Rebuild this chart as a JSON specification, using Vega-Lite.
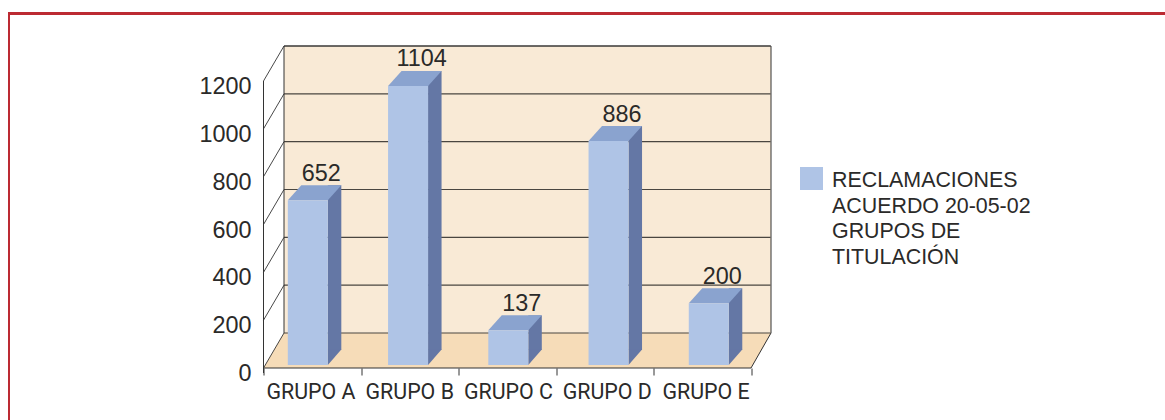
{
"$schema":"https://vega.github.io/schema/vega-lite/v6.json",
"width":507.5,"height":322,
"autosize":"none",
"padding":{"left":263.5,"top":46,"right":394,"bottom":52},
"background":"white",
"view":{"stroke":null},
"config":{"font":"Liberation Sans"},
"datasets":{
"bars":[
{"grupo":"GRUPO A","valor":652,"altura":652,"serie":"RECLAMACIONES|ACUERDO 20-05-02|GRUPOS DE|TITULACIÓN"},
{"grupo":"GRUPO B","valor":1104,"altura":1104,"serie":"RECLAMACIONES|ACUERDO 20-05-02|GRUPOS DE|TITULACIÓN"},
{"grupo":"GRUPO C","valor":137,"altura":137,"serie":"RECLAMACIONES|ACUERDO 20-05-02|GRUPOS DE|TITULACIÓN"},
{"grupo":"GRUPO D","valor":886,"altura":886,"serie":"RECLAMACIONES|ACUERDO 20-05-02|GRUPOS DE|TITULACIÓN"},
{"grupo":"GRUPO E","valor":200,"altura":244,"serie":"RECLAMACIONES|ACUERDO 20-05-02|GRUPOS DE|TITULACIÓN"}],
"ticks":[{"t":0},{"t":200},{"t":400},{"t":600},{"t":800},{"t":1000},{"t":1200}],
"origin":[{"t":0}]
},
"layer":[
{"data":{"name":"origin"},"mark":{"type":"point","size":4,"opacity":1,"filled":true,"fill":"#BC2A32","stroke":null,"shape":"M-255.5 52V-356H901.5V-353H-253.5V52Z"},
 "encoding":{"x":{"datum":0,"type":"quantitative","scale":{"domain":[0,1],"range":[0,487.5]},"axis":null},"y":{"field":"t","type":"quantitative","scale":{"domain":[0,1200],"range":[322,35]},"axis":null}}},
{"data":{"name":"origin"},"mark":{"type":"point","size":4,"opacity":1,"filled":true,"fill":"#F9EAD6","stroke":null,"shape":"M20.5 -322H507.5V-35H20.5Z"},
 "encoding":{"x":{"datum":0,"type":"quantitative","scale":{"domain":[0,1],"range":[0,487.5]},"axis":null},"y":{"field":"t","type":"quantitative","scale":{"domain":[0,1200],"range":[322,35]},"axis":null}}},
{"data":{"name":"origin"},"mark":{"type":"point","size":4,"opacity":1,"filled":true,"fill":"#F6DCB8","stroke":null,"shape":"M0 0L20.5 -35H507.5L487.5 0Z"},
 "encoding":{"x":{"datum":0,"type":"quantitative","scale":{"domain":[0,1],"range":[0,487.5]},"axis":null},"y":{"field":"t","type":"quantitative","scale":{"domain":[0,1200],"range":[322,35]},"axis":null}}},
{"data":{"name":"ticks"},"mark":{"type":"point","size":4,"opacity":1,"filled":false,"fill":null,"stroke":"#4a4640","strokeWidth":1.2,"shape":"M20.5 -35H507"},
 "encoding":{"x":{"datum":0,"type":"quantitative","scale":{"domain":[0,1],"range":[0,487.5]},"axis":null},
  "y":{"field":"t","type":"quantitative","scale":{"domain":[0,1200],"range":[322,35]},
   "axis":{"values":[0,200,400,600,800,1000,1200],"format":"d","domain":false,"ticks":false,"grid":false,"title":null,"labelFontSize":23.4,"labelColor":"#2b2a29","labelPadding":12.5,"labelOffset":5.5,"labelFont":"Liberation Sans"}}}},
{"data":{"name":"ticks"},"mark":{"type":"point","size":4,"opacity":1,"filled":false,"fill":null,"stroke":"#333333","strokeWidth":0.9,"shape":"M0 0L20.5 -35"},
 "encoding":{"x":{"datum":0,"type":"quantitative","scale":{"domain":[0,1],"range":[0,487.5]},"axis":null},"y":{"field":"t","type":"quantitative","scale":{"domain":[0,1200],"range":[322,35]},"axis":null}}},
{"data":{"name":"origin"},"mark":{"type":"point","size":4,"opacity":1,"filled":false,"fill":null,"stroke":"#333333","strokeWidth":1,"shape":"M0 -287V5M20.5 -322V-35M20.5 -322H507.5V-35L487.5 0H0"},
 "encoding":{"x":{"datum":0,"type":"quantitative","scale":{"domain":[0,1],"range":[0,487.5]},"axis":null},"y":{"field":"t","type":"quantitative","scale":{"domain":[0,1200],"range":[322,35]},"axis":null}}},
{"data":{"name":"bars"},"mark":{"type":"point","opacity":0},
 "encoding":{"x":{"field":"grupo","type":"nominal","scale":{"type":"band","padding":0,"range":[0,487.5]},
   "axis":{"orient":"bottom","labels":false,"title":null,"ticks":true,"tickBand":"extent","tickSize":7,"tickColor":"#333333","domain":false,"grid":false}}}},
{"data":{"name":"bars"},"mark":{"type":"bar","width":13.5,"xOffset":26.75,"yOffset":-15,"y2Offset":-15,"fill":"#6477A5"},
 "encoding":{"x":{"field":"grupo","type":"nominal","scale":{"type":"band","padding":0,"range":[-5.8,495.4]},"axis":null},
  "y":{"field":"altura","type":"quantitative","scale":{"domain":[0,1200],"range":[319,15.7]},"axis":null},"y2":{"datum":0}}},
{"data":{"name":"bars"},"mark":{"type":"point","size":4,"opacity":1,"filled":true,"fill":"#6477A5","stroke":null,"shape":"M20 0L33.5 -15.5H20Z"},
 "encoding":{"x":{"field":"grupo","type":"nominal","scale":{"type":"band","padding":0,"range":[-5.8,495.4]},"axis":null},
  "y":{"datum":0,"type":"quantitative","scale":{"domain":[0,1200],"range":[319,15.7]},"axis":null}}},
{"data":{"name":"bars"},"mark":{"type":"point","size":4,"opacity":1,"filled":true,"fill":"#8AA3CF","stroke":null,"shape":"M-20 0L-6.5 -15H33.5L20 0Z"},
 "encoding":{"x":{"field":"grupo","type":"nominal","scale":{"type":"band","padding":0,"range":[-5.8,495.4]},"axis":null},
  "y":{"field":"altura","type":"quantitative","scale":{"domain":[0,1200],"range":[319,15.7]},"axis":null}}},
{"data":{"name":"bars"},"mark":{"type":"bar","width":40},
 "encoding":{"x":{"field":"grupo","type":"nominal","scale":{"type":"band","padding":0,"range":[-5.8,495.4]},"axis":null},
  "y":{"field":"altura","type":"quantitative","scale":{"domain":[0,1200],"range":[319,15.7]},"axis":null},"y2":{"datum":0},
  "color":{"field":"serie","type":"nominal","scale":{"range":["#AFC4E6"]},
   "legend":{"orient":"none","legendX":536.5,"legendY":121,"title":null,"symbolType":"square","symbolSize":529,"symbolStrokeWidth":0,"labelFontSize":21.4,"labelColor":"#2b2a29","labelLimit":300,"labelOffset":9,"labelExpr":"split(datum.label,'|')","labelFont":"Liberation Sans","encoding":{"labels":{"lineHeight":{"value":25.6},"dy":{"value":2.5}}}}}}},
{"data":{"name":"bars"},"mark":{"type":"text","fontSize":23.4,"baseline":"alphabetic","align":"center","xOffset":13.5,"yOffset":-19.5,"color":"#2b2a29"},
 "encoding":{"x":{"field":"grupo","type":"nominal","scale":{"type":"band","padding":0,"range":[-5.8,495.4]},"axis":null},
  "y":{"field":"altura","type":"quantitative","scale":{"domain":[0,1200],"range":[319,15.7]},"axis":null},
  "text":{"field":"valor","type":"quantitative"}}},
{"data":{"name":"bars"},"mark":{"type":"point","opacity":0},
 "encoding":{"x":{"field":"grupo","type":"nominal","scale":{"type":"band","padding":0,"range":[-1.9,491.9]},
   "axis":{"orient":"bottom","title":null,"ticks":false,"domain":false,"grid":false,"labelAngle":0,"labelFont":"Roboto","labelFontSize":21.4,"labelColor":"#2b2a29","labelBaseline":"alphabetic","labelPadding":30,"labelLimit":200}}}}
],
"resolve":{"scale":{"x":"independent","y":"independent","color":"independent"},"axis":{"x":"independent","y":"independent"}}
}
